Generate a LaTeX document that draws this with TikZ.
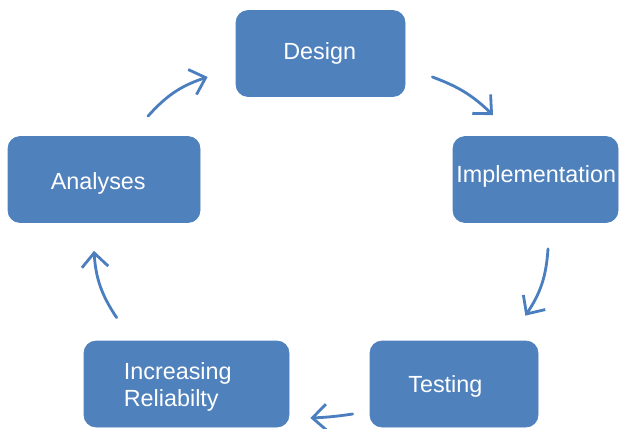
\documentclass[tikz,border=0pt]{standalone}
\usepackage{fontspec}
\setmainfont{Liberation Sans}
\usetikzlibrary{positioning, arrows.meta}

\definecolor{boxblue}{RGB}{79,129,189}
\definecolor{arrowblue}{RGB}{74,126,190}

\tikzset{
  stagebox/.style={draw=boxblue, fill=boxblue, rounded corners=0.24cm, minimum height=1.72cm, inner sep=0pt},
  stagetext/.style={text=white, font=\fontsize{13.3}{15.5}\selectfont, inner sep=0pt, anchor=base west, align=left},
  cyclearrow/.style={draw=arrowblue, line width=1.6pt, line cap=round, -{Straight Barb[length=8pt, width=15pt, line width=1.6pt]}}
}

\begin{document}
\begin{tikzpicture}
    \useasboundingbox (0,0) rectangle (12.38,8.56);

    % Draw stage boxes
    \foreach \n/\x/\y/\w in {design/6.41/7.49/3.38, implementation/10.71/4.97/3.30, analyses/2.08/4.97/3.84, increasing/3.73/0.88/4.10, testing/9.08/0.88/3.36} {
      \node[stagebox, minimum width=\w cm] (\n) at (\x,\y) {};
    }

    % Labels
    \node[stagetext] (design-txt) at (5.66,7.37) {Design};
    \node[stagetext] (implementation-txt) at (9.12,4.91) {Implementation};
    \node[stagetext] (analyses-txt) at (1.01,4.77) {Analyses};
    \node[stagetext] (testing-txt) at (8.16,0.71) {Testing};
    \node[stagetext] (increasing-txt) at (2.47,0.43) {Increasing\\Reliabilty};

    % Arrows round the cycle
    \draw[cyclearrow] ([xshift=0.88cm, yshift=0.40cm]analyses.north) to[bend left=15] ([xshift=-0.56cm, yshift=-0.47cm]design.west);
    \draw[cyclearrow] ([xshift=0.54cm, yshift=-0.47cm]design.east) to[bend left=12] ([xshift=-0.85cm, yshift=0.42cm]implementation.north);
    \draw[cyclearrow] ([xshift=0.25cm, yshift=-0.52cm]implementation.south) to[bend left=15] ([xshift=-0.26cm, yshift=0.50cm]testing.north east);
    \draw[cyclearrow] ([xshift=-0.34cm, yshift=-0.60cm]testing.west) to[bend left=3] ([xshift=0.42cm, yshift=-0.68cm]increasing.east);
    \draw[cyclearrow] ([xshift=0.66cm, yshift=0.46cm]increasing.north west) to[bend left=15] ([xshift=-0.20cm, yshift=-0.56cm]analyses.south);

\end{tikzpicture}
\end{document}
